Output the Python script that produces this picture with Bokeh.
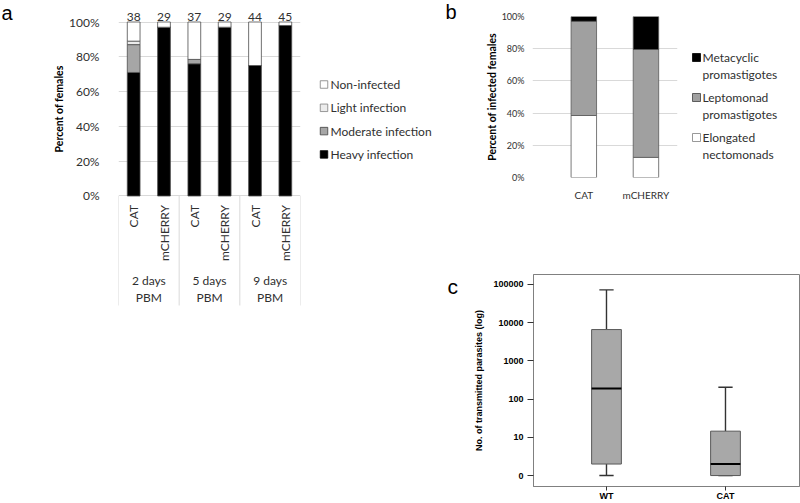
import numpy as np
from math import pi
from bokeh.plotting import figure
from bokeh.models import ColumnDataSource, FactorRange, Range1d, FixedTicker
from bokeh.layouts import row, column
from bokeh.core.properties import value
from bokeh.embed import file_html
from bokeh.resources import INLINE

FONT = "Lato"
ARIAL = "Liberation Sans"
TXT = "#303030"
GRID = "#d9d9d9"

# ---------------- data: panel a ----------------
a_groups = ["2 days\nPBM", "5 days\nPBM", "9 days\nPBM"]
a_lines = ["CAT", "mCHERRY"]
a_heavy = [71.0, 97.0, 76.0, 97.0, 75.0, 98.0]
a_moderate = [16.0, 0.0, 2.5, 0.0, 0.0, 0.0]
a_light = [2.0, 0.0, 0.0, 0.0, 0.0, 0.0]
a_noninf = [11.0, 3.0, 21.5, 3.0, 25.0, 2.0]
a_n = [38, 29, 37, 29, 44, 45]
a_series = ["Heavy infection", "Moderate infection", "Light infection", "Non-infected"]
a_colors = ["#000000", "#a6a6a6", "#ececec", "#ffffff"]
a_edges = ["#000000", "#404040", "#7f7f7f", "#7f7f7f"]
a_yticks = [0, 20, 40, 60, 80, 100]

# ---------------- data: panel b ----------------
b_cats = ["CAT", "mCHERRY"]
b_elongated = [38.5, 12.5]
b_lepto = [58.5, 67.0]
b_meta = [3.0, 20.5]
b_series = ["Elongated\nnectomonads", "Leptomonad\npromastigotes", "Metacyclic\npromastigotes"]
b_colors = ["#ffffff", "#a0a0a0", "#000000"]
b_edges = ["#7f7f7f", "#404040", "#000000"]
b_yticks = [0, 20, 40, 60, 80, 100]

# ---------------- data: panel c (plotted scale; the tick labelled "0" sits at 1) ----
c_groups = ["WT", "CAT"]
c_low = [1.0, 1.0]
c_q1 = [2.0, 1.0]
c_median = [190.0, 2.0]
c_q3 = [6600.0, 14.5]
c_high = [72000.0, 205.0]
c_yticks = [1, 10, 100, 1000, 10000, 100000]
c_ylabels = ["0", "10", "100", "1000", "10000", "100000"]

COMMON = dict(output_backend="svg", toolbar_location=None)


def strip(w, h):
    """A plain pixel-space canvas (y grows downward) for letters, titles and legends."""
    s = figure(width=w, height=h, x_range=Range1d(0, w), y_range=Range1d(h, 0),
               x_axis_type=None, y_axis_type=None, min_border=0, **COMMON)
    s.outline_line_color = None
    return s


# =============================== panel a ===============================
a_factors = [(g, l) for g in a_groups for l in a_lines]
a_sub = [l for g in a_groups for l in a_lines]
a_total = [h + m + li + n for h, m, li, n in zip(a_heavy, a_moderate, a_light, a_noninf)]

pa = figure(width=240, height=312,
            x_range=FactorRange(factors=a_factors, factor_padding=0, group_padding=0,
                                subgroup_padding=0),
            y_range=Range1d(-64.66, 112.36),
            min_border_left=46, min_border_right=6, min_border_top=0, min_border_bottom=4,
            **COMMON)

src_a = ColumnDataSource(dict(x=a_factors, heavy=a_heavy, moderate=a_moderate, light=a_light,
                              non=a_noninf, total=a_total, n=[str(v) for v in a_n], sub=a_sub))
pa.vbar_stack(["heavy", "moderate", "light", "non"], x="x", width=0.42,
              fill_color=a_colors, line_color="#4d4d4d", line_width=0.8, source=src_a)

pa.text(x="x", y="total", text="n", source=src_a, text_align="center",
        text_baseline="bottom", y_offset=-1, text_font=value(FONT),
        text_font_size="12px", text_color=TXT)
pa.text(x="x", y=0, text="sub", source=src_a, angle=pi / 2, text_align="right",
        text_baseline="middle", y_offset=9, text_font=value(FONT), text_font_size="12px",
        text_color=TXT)
pa.text(x="x", y=0, text="label", source=ColumnDataSource(dict(x=a_groups, label=a_groups)),
        text_align="center", text_baseline="middle", y_offset=93, text_line_height=1.1,
        text_font=value(FONT), text_font_size="12px", text_color=TXT)
sep_x = [(g, a_lines[0], -0.5) for g in a_groups] + [(a_groups[-1], a_lines[-1], 0.5)]
pa.segment(x0="x", y0=0, x1="x", y1=-62.93, source=ColumnDataSource(dict(x=sep_x)),
           line_color=GRID, line_width=1)

pa.xaxis.visible = False
pa.xgrid.visible = False
pa.ygrid.ticker = FixedTicker(ticks=a_yticks)
pa.ygrid.grid_line_color = GRID
pa.yaxis.ticker = FixedTicker(ticks=a_yticks)
pa.yaxis.major_label_overrides = {t: f"{t}%" for t in a_yticks}
pa.yaxis.axis_line_color = None
pa.yaxis.major_tick_line_color = None
pa.yaxis.minor_tick_line_color = None
pa.yaxis.major_label_standoff = 13
pa.yaxis.major_label_text_font = FONT
pa.yaxis.major_label_text_font_size = "12px"
pa.yaxis.major_label_text_color = TXT
pa.outline_line_color = None

# letter + y title of panel a
sa = strip(66, 312)
sa.text(x=[1], y=[1], text=["a"], text_align="left", text_baseline="top",
        text_font=value(ARIAL), text_font_size="20px", text_color="#000000")
sa.text(x=[58], y=[108.5], text=["Percent of females"], angle=pi / 2, text_align="center",
        text_baseline="middle", text_font=value(FONT), text_font_style="bold",
        text_font_size="10.5px", text_color="#000000")

# legend of panel a (top entry = last stacked series)
lga = strip(134, 312)
la_labels = a_series[::-1]
la_y = [84 + 23.3 * i for i in range(len(la_labels))]
lga.rect(x=[17.5] * len(la_labels), y=la_y, width=7.5, height=7.5,
         fill_color=a_colors[::-1], line_color=a_edges[::-1], line_width=0.8)
lga.text(x=[24] * len(la_labels), y=la_y, text=la_labels, text_align="left",
         text_baseline="middle", text_font=value(FONT), text_font_size="12px", text_color=TXT)

# =============================== panel b ===============================
b_x = np.arange(1, len(b_cats) + 1)
pb = figure(width=187, height=215, x_range=Range1d(0.174, 2.508), y_range=Range1d(0, 100),
            min_border_left=25, min_border_right=8, min_border_top=16, min_border_bottom=38,
            **COMMON)
src_b = ColumnDataSource(dict(x=b_x, el=b_elongated, le=b_lepto, me=b_meta))
pb.vbar_stack(["el", "le", "me"], x="x", width=0.41, fill_color=b_colors,
              line_color="#595959", line_width=0.8, source=src_b)
pb.xgrid.visible = False
pb.ygrid.ticker = FixedTicker(ticks=b_yticks)
pb.ygrid.grid_line_color = GRID
pb.yaxis.ticker = FixedTicker(ticks=b_yticks)
pb.yaxis.major_label_overrides = {t: f"{t}%" for t in b_yticks}
pb.xaxis.ticker = FixedTicker(ticks=[int(v) for v in b_x])
pb.xaxis.major_label_overrides = {int(v): c for v, c in zip(b_x, b_cats)}
for ax in (pb.xaxis, pb.yaxis):
    ax.axis_line_color = None
    ax.major_tick_line_color = None
    ax.minor_tick_line_color = None
    ax.major_label_text_font = FONT
    ax.major_label_text_color = TXT
pb.yaxis.major_label_text_font_size = "9px"
pb.xaxis.major_label_text_font_size = "10px"
pb.yaxis.major_label_standoff = 2
pb.xaxis.major_label_standoff = 5
pb.outline_line_color = None

# y title of panel b
sbt = strip(28, 215)
sbt.text(x=[21], y=[96.5], text=["Percent of infected females"], angle=pi / 2,
         text_align="center", text_baseline="middle", text_font=value(FONT),
         text_font_style="bold", text_font_size="10.5px", text_color="#000000")

# legend of panel b (top entry = last stacked series), two-line labels
lgb = strip(115, 215)
lb_labels = b_series[::-1]
lb_y = [57 + 40 * i for i in range(len(lb_labels))]
lgb.rect(x=[11] * len(lb_labels), y=lb_y, width=8, height=8,
         fill_color=b_colors[::-1], line_color=b_edges[::-1], line_width=0.8)
tx, ty, tt = [], [], []
for y0, lab in zip(lb_y, lb_labels):
    for k, part in enumerate(lab.split("\n")):
        tx.append(17)
        ty.append(y0 + 17 * k)
        tt.append(part)
lgb.text(x=tx, y=ty, text=tt, text_align="left", text_baseline="middle",
         text_font=value(FONT), text_font_size="12px", text_color=TXT)

# =============================== panel c ===============================
c_x = np.arange(1, len(c_groups) + 1)
box_w = 0.25
cap_w = 0.12
pc = figure(width=330, height=288, x_range=Range1d(0.3866, 2.622),
            y_range=Range1d(0.517, 1.82e5), y_axis_type="log",
            min_border_left=63, min_border_right=1, min_border_top=59, min_border_bottom=16,
            **COMMON)
src_c = ColumnDataSource(dict(x=c_x, low=c_low, q1=c_q1, med=c_median, q3=c_q3, high=c_high,
                              xl=c_x - box_w / 2, xr=c_x + box_w / 2,
                              cl=c_x - cap_w / 2, cr=c_x + cap_w / 2))
WH = dict(source=src_c, line_color="#333333", line_width=1.4)
pc.segment(x0="x", y0="q3", x1="x", y1="high", **WH)
pc.segment(x0="x", y0="low", x1="x", y1="q1", **WH)
pc.segment(x0="cl", y0="high", x1="cr", y1="high", **WH)
pc.segment(x0="cl", y0="low", x1="cr", y1="low", **WH)
pc.vbar(x="x", width=box_w, bottom="q1", top="q3", source=src_c, fill_color="#a8a8a8",
        line_color="#595959", line_width=1)
pc.segment(x0="xl", y0="med", x1="xr", y1="med", source=src_c, line_color="#000000",
           line_width=2)

pc.grid.visible = False
pc.outline_line_color = "#808080"
pc.outline_line_width = 1
pc.yaxis.ticker = FixedTicker(ticks=c_yticks, minor_ticks=[])
pc.yaxis.major_label_overrides = {t: l for t, l in zip(c_yticks, c_ylabels)}
pc.xaxis.ticker = FixedTicker(ticks=[int(v) for v in c_x], minor_ticks=[])
pc.xaxis.major_label_overrides = {int(v): g for v, g in zip(c_x, c_groups)}
for ax in (pc.xaxis, pc.yaxis):
    ax.axis_line_color = "#808080"
    ax.major_tick_line_color = "#333333"
    ax.minor_tick_line_color = None
    ax.major_tick_in = 0
    ax.major_label_text_font = ARIAL
    ax.major_label_text_font_style = "bold"
    ax.major_label_text_font_size = "9px"
    ax.major_label_text_color = "#000000"
pc.yaxis.major_tick_out = 6
pc.xaxis.major_tick_out = 4
pc.yaxis.major_label_standoff = 4
pc.xaxis.major_label_standoff = 0
pc.yaxis.axis_label = "No. of transmitted parasites (log)"
pc.yaxis.axis_label_text_font = ARIAL
pc.yaxis.axis_label_text_font_style = "bold"
pc.yaxis.axis_label_text_font_size = "9px"
pc.yaxis.axis_label_text_color = "#000000"
pc.yaxis.axis_label_standoff = 6

# letters of panels b and c
sbc = strip(30, 503)
sbc.text(x=[5], y=[0], text=["b"], text_align="left", text_baseline="top",
         text_font=value(ARIAL), text_font_size="20px", text_color="#000000")
sbc.text(x=[7], y=[286], text=["c"], text_align="left", text_baseline="middle",
         text_font=value(ARIAL), text_font_size="21px", text_color="#000000")

layout = row(column(sa), column(pa), column(lga), column(sbc),
             column(row(column(sbt), column(pb), column(lgb)), row(column(pc))))
open("out.html", "w").write(file_html(layout, INLINE))
